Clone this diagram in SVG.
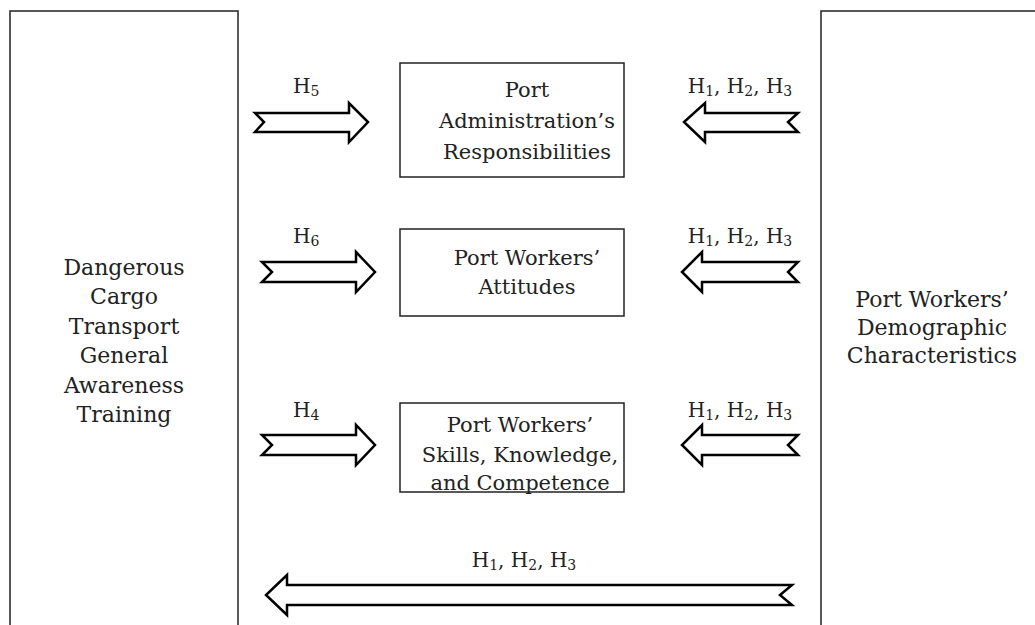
<svg xmlns="http://www.w3.org/2000/svg" width="1035" height="625" viewBox="0 0 1035 625">
<style>
.box{fill:#fff;stroke:#222;stroke-width:1.5}
.arr{fill:#fff;stroke:#000;stroke-width:2.5;stroke-linejoin:miter}
text{font-family:"DejaVu Serif","Liberation Serif",serif;font-size:20px;fill:#222}
.t{font-size:22px;text-anchor:middle}
.m{font-size:21px;text-anchor:middle}
.c{text-anchor:middle}
</style>
<rect width="1035" height="625" fill="#fff"/>
<g id="node-training">
<rect class="box" x="10" y="11" width="228" height="640"/>
<text class="t" x="124" y="275">Dangerous</text>
<text class="t" x="124" y="304">Cargo</text>
<text class="t" x="124" y="334">Transport</text>
<text class="t" x="124" y="363">General</text>
<text class="t" x="124" y="393">Awareness</text>
<text class="t" x="124" y="422">Training</text>
</g>
<g id="node-demographics">
<rect class="box" x="821" y="11" width="240" height="640"/>
<text class="t" x="932" y="307">Port Workers’</text>
<text class="t" x="932" y="335">Demographic</text>
<text class="t" x="932" y="363">Characteristics</text>
</g>
<g id="node-responsibilities">
<rect class="box" x="400" y="63" width="224" height="114"/>
<text class="m" x="527" y="97">Port</text>
<text class="m" x="527" y="128">Administration’s</text>
<text class="m" x="527" y="159">Responsibilities</text>
</g>
<g id="node-attitudes">
<rect class="box" x="400" y="229" width="224" height="87"/>
<text class="m" x="527" y="265">Port Workers’</text>
<text class="m" x="527" y="294">Attitudes</text>
</g>
<g id="node-skills">
<rect class="box" x="400" y="403" width="224" height="89"/>
<text class="m" x="520" y="432">Port Workers’</text>
<text class="m" x="520" y="462">Skills,  Knowledge,</text>
<text class="m" x="520" y="490">and Competence</text>
</g>
<g id="connectors">
<path class="arr" d="M255,113 H349 V103 L368,122 L349,142 V132 H255 L264,122 Z"/>
<path class="arr" d="M798,113 H705 V103 L684,122 L705,142 V132 H798 L788,122 Z"/>
<path class="arr" d="M262,262 H356 V252 L375,272 L356,292 V282 H262 L272,272 Z"/>
<path class="arr" d="M798,262 H702 V252 L682,272 L702,292 V282 H798 L788,272 Z"/>
<path class="arr" d="M262,435 H356 V425 L375,445 L356,465 V455 H262 L272,445 Z"/>
<path class="arr" d="M798,435 H702 V425 L682,445 L702,465 V455 H798 L788,445 Z"/>
<path class="arr" d="M792,585 H287 V575 L266,595 L287,615 V605 H792 L780,595 Z"/>
</g>
<g id="labels">
<text x="293" y="93">H<tspan font-size="14" dy="3">5</tspan></text>
<text x="293" y="243">H<tspan font-size="14" dy="3">6</tspan></text>
<text x="293" y="417">H<tspan font-size="14" dy="3">4</tspan></text>
<text class="c" x="740" y="93">H<tspan font-size="14" dy="3">1</tspan><tspan dy="-3">, H</tspan><tspan font-size="14" dy="3">2</tspan><tspan dy="-3">, H</tspan><tspan font-size="14" dy="3">3</tspan></text>
<text class="c" x="740" y="243">H<tspan font-size="14" dy="3">1</tspan><tspan dy="-3">, H</tspan><tspan font-size="14" dy="3">2</tspan><tspan dy="-3">, H</tspan><tspan font-size="14" dy="3">3</tspan></text>
<text class="c" x="740" y="417">H<tspan font-size="14" dy="3">1</tspan><tspan dy="-3">, H</tspan><tspan font-size="14" dy="3">2</tspan><tspan dy="-3">, H</tspan><tspan font-size="14" dy="3">3</tspan></text>
<text class="c" x="524" y="567">H<tspan font-size="14" dy="3">1</tspan><tspan dy="-3">, H</tspan><tspan font-size="14" dy="3">2</tspan><tspan dy="-3">, H</tspan><tspan font-size="14" dy="3">3</tspan></text>
</g>
</svg>
